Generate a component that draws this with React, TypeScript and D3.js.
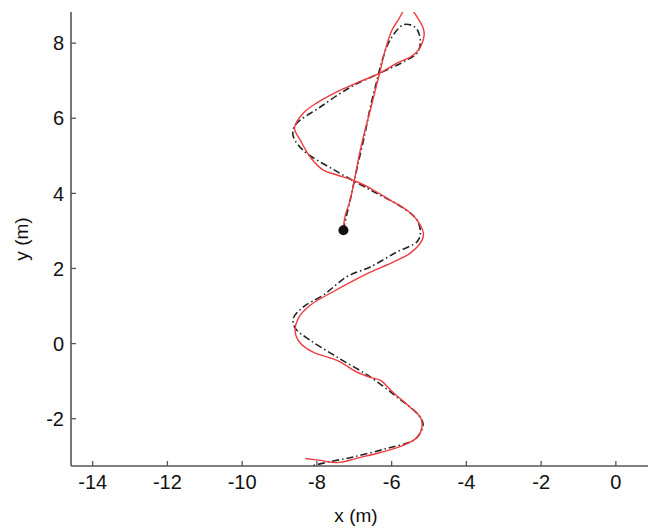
import React, { useEffect } from 'react';
import * as d3 from 'd3';

// reference (planned) path, dash-dot black
const refX = [-7.30, -7.11, -6.92, -6.71, -6.57, -6.41, -6.25, -6.04, -5.69, -5.45, -5.31, -5.23, -5.32, -5.69, -6.30, -7.10, -7.91, -8.58, -8.64, -8.37, -7.46, -6.57, -5.69, -5.32, -5.23, -5.32, -5.86, -6.57, -7.20, -7.83, -8.36, -8.63, -8.58, -8.18, -7.46, -6.57, -5.86, -5.32, -5.16, -5.23, -5.42, -6.12, -7.03, -7.73, -8.10];
const refY = [3.02, 3.82, 4.70, 5.61, 6.30, 6.94, 7.55, 8.09, 8.49, 8.47, 8.35, 8.01, 7.74, 7.50, 7.21, 6.83, 6.30, 5.82, 5.55, 5.15, 4.58, 4.09, 3.61, 3.29, 2.94, 2.71, 2.44, 2.04, 1.78, 1.29, 0.98, 0.67, 0.41, 0.09, -0.36, -0.89, -1.42, -1.86, -2.13, -2.37, -2.58, -2.79, -3.02, -3.16, -3.25];

// measured path, red
const actX = [-7.30, -7.24, -7.11, -6.97, -6.84, -6.71, -6.57, -6.39, -6.30, -6.17, -5.99, -5.82, -5.64, -5.48, -5.30, -5.16, -5.13, -5.28, -5.50, -5.86, -6.30, -6.84, -7.37, -8.00, -8.36, -8.60, -8.44, -8.18, -7.83, -7.46, -6.93, -6.49, -6.04, -5.59, -5.32, -5.15, -5.19, -5.50, -5.96, -6.57, -7.11, -7.64, -8.18, -8.50, -8.58, -8.44, -8.10, -7.46, -6.93, -6.57, -6.30, -5.96, -5.50, -5.23, -5.19, -5.32, -5.69, -6.30, -6.84, -7.46, -7.91, -8.31];
const actY = [3.02, 3.42, 3.82, 4.49, 5.15, 5.69, 6.22, 6.94, 7.29, 7.82, 8.35, 8.62, 8.90, 8.90, 8.67, 8.41, 8.22, 7.82, 7.63, 7.47, 7.21, 6.98, 6.75, 6.41, 6.14, 5.74, 5.41, 4.97, 4.62, 4.49, 4.31, 4.09, 3.82, 3.55, 3.29, 2.94, 2.75, 2.41, 2.17, 1.90, 1.63, 1.34, 1.02, 0.67, 0.30, 0.01, -0.23, -0.45, -0.76, -0.90, -0.98, -1.30, -1.70, -1.96, -2.23, -2.50, -2.71, -2.90, -3.03, -3.17, -3.11, -3.06];

const startPt = [-7.29, 3.02];
const xTicks = [-14, -12, -10, -8, -6, -4, -2, 0];
const yTicks = [-2, 0, 2, 4, 6, 8];

const W = 650;
const H = 528;
const margin = { top: 12, right: 2, bottom: 62, left: 71 };
const font = 'Liberation Sans, Arial, sans-serif';
const axisColor = '#555';

export default function App() {
  useEffect(() => { document.body.style.margin = '0'; }, []);

  const x = d3.scaleLinear().domain([-14.58, 0.86]).range([margin.left, W - margin.right]);
  const y = d3.scaleLinear().domain([-3.26, 8.83]).range([H - margin.bottom, margin.top]);

  const line = d3.line<number[]>().x(p => x(p[0])).y(p => y(p[1])).curve(d3.curveCatmullRom);
  const refPts = refX.map((v, i) => [v, refY[i]]);
  const actPts = actX.map((v, i) => [v, actY[i]]);

  const x0 = x.range()[0], x1 = x.range()[1];
  const y0 = y.range()[0], y1 = y.range()[1];

  return (
    <svg width={W} height={H} style={{ display: 'block', background: '#fff' }} fontFamily={font}>
      <defs>
        <clipPath id="plot">
          <rect x={x0} y={y1} width={x1 - x0} height={y0 - y1} />
        </clipPath>
      </defs>
      <g clipPath="url(#plot)">
        <path d={line(refPts) || ''} fill="none" stroke="#222" strokeWidth={1.6} strokeDasharray="7 3 1.5 3" />
        <path d={line(actPts) || ''} fill="none" stroke="#ee3b3f" strokeWidth={1.4} />
        <circle cx={x(startPt[0])} cy={y(startPt[1])} r={5} fill="#111" />
      </g>
      {/* axes, ticks point inward */}
      <line x1={x0} x2={x0} y1={y1} y2={y0} stroke={axisColor} strokeWidth={1.6} />
      <line x1={x0} x2={x1} y1={y0} y2={y0} stroke={axisColor} strokeWidth={1.6} />
      {xTicks.map(t => (
        <g key={'x' + t}>
          <line x1={x(t)} x2={x(t)} y1={y0} y2={y0 - 5} stroke={axisColor} strokeWidth={1.3} />
          <text x={x(t)} y={y0 + 23} textAnchor="middle" fontSize={20} fill="#111">{t}</text>
        </g>
      ))}
      {yTicks.map(t => (
        <g key={'y' + t}>
          <line x1={x0} x2={x0 + 5} y1={y(t)} y2={y(t)} stroke={axisColor} strokeWidth={1.3} />
          <text x={x0 - 7} y={y(t)} dy="0.36em" textAnchor="end" fontSize={20} fill="#111">{t}</text>
        </g>
      ))}
      <text x={356} y={H - 6} textAnchor="middle" fontSize={19} fill="#111">x (m)</text>
      <text transform={`translate(28,${(y0 + y1) / 2}) rotate(-90)`} textAnchor="middle" fontSize={19} fill="#111">y (m)</text>
    </svg>
  );
}
